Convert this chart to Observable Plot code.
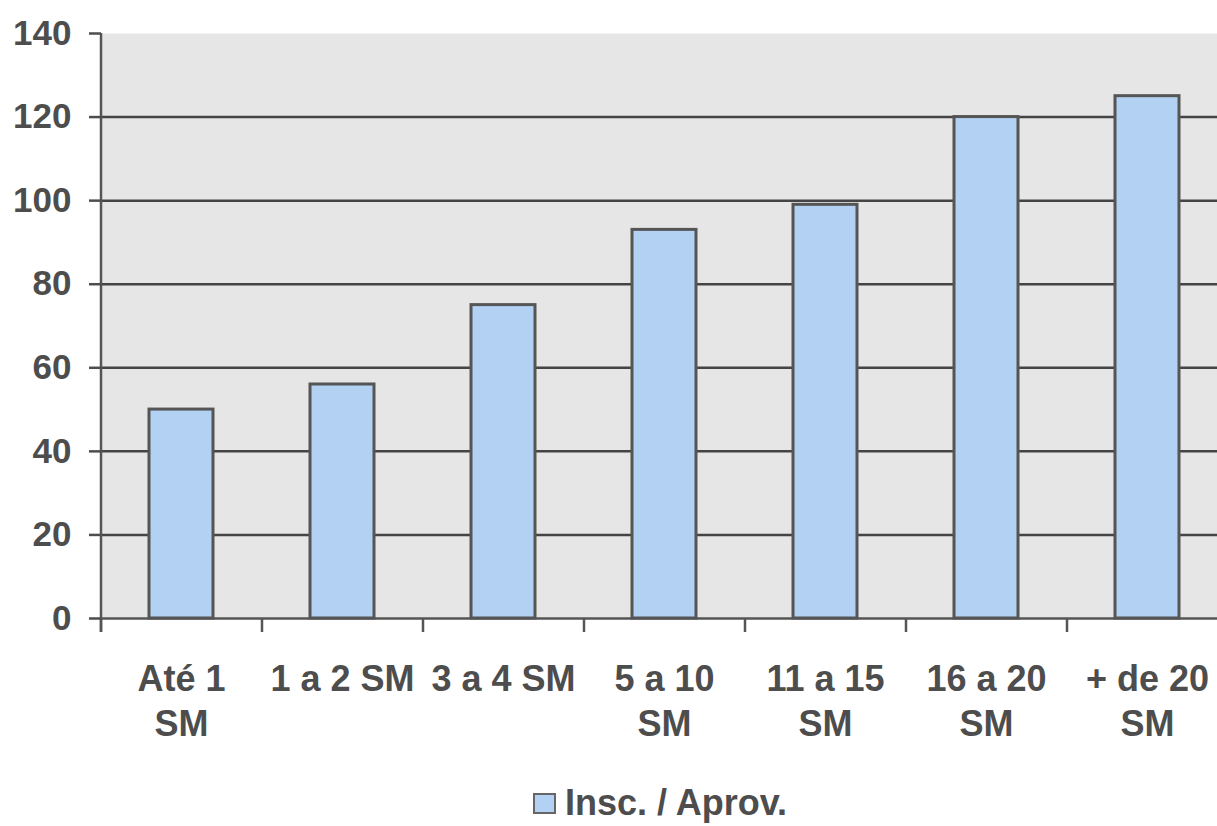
<!DOCTYPE html>
<html>
<head>
<meta charset="utf-8">
<script src="https://cdn.jsdelivr.net/npm/d3@7"></script>
<script src="https://cdn.jsdelivr.net/npm/@observablehq/plot@0.6"></script>
<style>
  html, body { margin: 0; padding: 0; background: #fff; overflow: hidden; }
  body { width: 1217px; height: 826px; position: relative; font-family: "Liberation Sans", Arial, sans-serif; }
  #chart svg { max-width: none !important; display: block; }
  #legend { position: absolute; left: 533px; top: 782px; display: flex; align-items: center; color: #4d4d4d; font-weight: bold; font-size: 36px; }
  #legend .swatch { width: 19px; height: 17px; border: 2px solid #666; background: #b3d1f3; margin-right: 9px; }
</style>
</head>
<body>
<div id="chart"></div>
<div id="legend"><span class="swatch"></span><span>Insc. / Aprov.</span></div>
<script>
// Income brackets (in minimum wages) and the ratio of enrolled / approved
const categories = ["Até 1 SM", "1 a 2 SM", "3 a 4 SM", "5 a 10 SM", "11 a 15 SM", "16 a 20 SM", "+ de 20 SM"];
const tickLabels = ["Até 1\nSM", "1 a 2 SM", "3 a 4 SM", "5 a 10\nSM", "11 a 15\nSM", "16 a 20\nSM", "+ de 20\nSM"];
const values = [50, 56, 75, 93, 99, 120, 125];
const yTicks = [0, 20, 40, 60, 80, 100, 120, 140];
const gridValues = [20, 40, 60, 80, 100, 120];
const seriesName = "Insc. / Aprov.";

const data = categories.map((cat, i) => ({cat, value: values[i]}));

const marginLeft = 101;
const width = 1228;
const step = (width - marginLeft) / categories.length;
const ink = "#4d4d4d";
const font = "Liberation Sans, Arial, sans-serif";

const chart = Plot.plot({
  width,
  height: 770,
  marginLeft,
  marginRight: 0,
  marginTop: 33,
  marginBottom: 152,
  style: {background: "transparent", color: ink, fontFamily: font},
  x: {domain: categories, paddingInner: 0.6, paddingOuter: 0.3},
  y: {domain: [0, 140]},
  marks: [
    Plot.frame({fill: "#e6e6e6", stroke: null}),
    Plot.ruleY(gridValues, {stroke: "#444", strokeWidth: 2.5}),
    Plot.barY(data, {x: "cat", y: "value", fill: "#b3d1f3", stroke: "#555", strokeWidth: 3, title: d => `${seriesName}: ${d.value}`}),
    Plot.ruleY([0], {stroke: "#555", strokeWidth: 2.5}),
    // vertical axis line, running down through the first category boundary tick
    Plot.ruleX(categories.slice(0, 1), {x: d => d, y1: 140, y2: 0, dx: -step / 2, insetBottom: -14, stroke: "#555", strokeWidth: 2.5}),
    // tick marks between categories
    Plot.ruleX(categories, {x: d => d, y1: 0, y2: 0, dx: -step / 2, insetBottom: -14, stroke: "#555", strokeWidth: 2.5}),
    Plot.axisY({
      ticks: yTicks, tickSize: 12, tickPadding: 18, strokeWidth: 2.5,
      fontSize: 35, fontWeight: "bold", fontFamily: font, label: null
    }),
    Plot.axisX({
      tickSize: 0, tickPadding: 40, lineAnchor: "top", lineHeight: 1.26,
      tickFormat: (d, i) => tickLabels[categories.indexOf(d)],
      fontSize: 36, fontWeight: "bold", fontFamily: font, label: null
    })
  ]
});

document.getElementById("chart").appendChild(chart);
</script>
</body>
</html>
